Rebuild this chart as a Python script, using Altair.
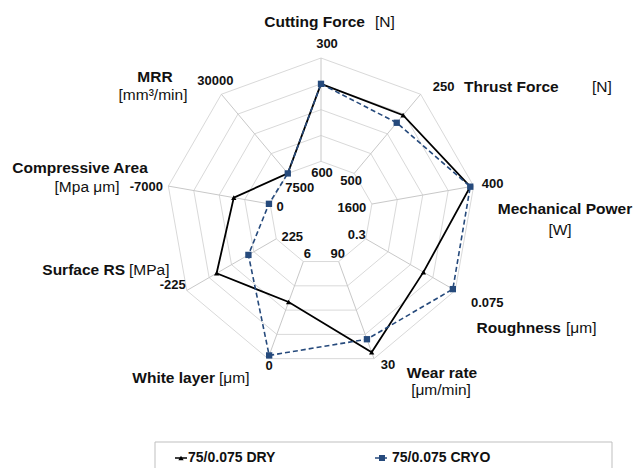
import altair as alt
import pandas as pd

W, H = 633, 468
CX, CY, R = 321, 213, 155          # centre and outer radius of the web (pixels)
HOLE = 1 / 3                        # inner radius as a fraction of R

# ---- data -----------------------------------------------------------------
axes = ["Cutting Force", "Thrust Force", "Mechanical Power", "Roughness",
        "Wear rate", "White layer", "Surface RS", "Compressive Area", "MRR"]
inner_ticks = [600, 500, 1600, 0.3, 90, 6, 225, 0, 7500]
outer_ticks = [300, 250, 400, 0.075, 30, 0, -225, -7000, 30000]
dry_values = [375, 316, 440, 0.155, 34, 3.5, -75, -2500, 7500]
cryo_values = [375, 340, 440, 0.081, 42, 0.2, 85, -80, 7500]
series_names = ["75/0.075 DRY", "75/0.075 CRYO"]

n = len(axes)
FONT = "Liberation Sans"
INK = "#111111"
NAVY = "#264a7c"

# ---- long table of series points (closed polygons) -------------------------
rows = []
for name, vals in zip(series_names, [dry_values, cryo_values]):
    for i in range(n + 1):
        k = i % n
        rows.append({"series": name, "order": i, "k": k, "value": vals[k],
                     "inner": inner_ticks[k], "outer": outer_ticks[k]})
series_df = pd.DataFrame(rows)


def to_x(px):
    return (px - CX) / R


def to_y(py):
    return (CY - py) / R


xs = alt.Scale(domain=[to_x(0), to_x(W)], nice=False, zero=False)
ys = alt.Scale(domain=[to_y(H), to_y(0)], nice=False, zero=False)


def X(f):
    return alt.X(f, type="quantitative", scale=xs, axis=None)


def Y(f):
    return alt.Y(f, type="quantitative", scale=ys, axis=None)


def project(chart):
    """Map each value onto its spoke: inner tick -> hole edge, outer tick -> rim."""
    return chart.transform_calculate(
        ang=f"datum.k * 2 * PI / {n}",
    ).transform_calculate(
        f="(datum.value - datum.inner) / (datum.outer - datum.inner)",
    ).transform_calculate(
        r=f"{HOLE} + {1 - HOLE} * datum.f",
    ).transform_calculate(
        px="datum.r * sin(datum.ang)",
        py="datum.r * cos(datum.ang)",
    )


# ---- web: rings and spokes ------------------------------------------------
ring_rows = []
for ring in range(2, 7):
    for i in range(n + 1):
        ring_rows.append({"ring": ring, "order": i, "k": i % n, "rr": ring / 6})
rings = alt.Chart(pd.DataFrame(ring_rows)).transform_calculate(
    ang=f"datum.k * 2 * PI / {n}"
).transform_calculate(
    px="datum.rr * sin(datum.ang)", py="datum.rr * cos(datum.ang)"
).mark_line(color="#d9d9d9", strokeWidth=1).encode(
    x=X("px"), y=Y("py"), detail="ring:N", order="order:Q"
)

spokes = alt.Chart(pd.DataFrame({"k": list(range(n))})).transform_calculate(
    ang=f"datum.k * 2 * PI / {n}"
).transform_calculate(
    x1=f"{HOLE} * sin(datum.ang)", y1=f"{HOLE} * cos(datum.ang)",
    x2="sin(datum.ang)", y2="cos(datum.ang)",
).mark_rule(color="#c8c8c8", strokeWidth=1).encode(
    x=X("x1"), y=Y("y1"), x2="x2:Q", y2="y2:Q"
)

# ---- tick labels at both ends of every spoke -------------------------------
outer_off = [(6, -14), (23, -7), (19, -2), (32, 12), (14, 6),
             (1, 7), (-14, -6), (-22, 1), (-6, -13)]
inner_off = [(1, 12), (-3, 8), (-20, 4), (-9, -4), (-1, -8),
             (4, -8), (16, -2), (10, 3), (12, 15)]
tick_rows = []
for k in range(n):
    for val, rr, (dx, dy) in [(inner_ticks[k], HOLE, inner_off[k]),
                              (outer_ticks[k], 1.0, outer_off[k])]:
        tick_rows.append({"k": k, "label": f"{val:g}", "rr": rr,
                          "dx": dx / R, "dy": -dy / R})
ticks = alt.Chart(pd.DataFrame(tick_rows)).transform_calculate(
    ang=f"datum.k * 2 * PI / {n}"
).transform_calculate(
    px="datum.rr * sin(datum.ang) + datum.dx",
    py="datum.rr * cos(datum.ang) + datum.dy",
).mark_text(font=FONT, fontSize=13, fontWeight="bold", color=INK,
            baseline="middle").encode(x=X("px"), y=Y("py"), text="label:N")

# ---- axis titles (bold name, regular unit) ---------------------------------
title_parts = [
    ("Cutting Force", 365, 22, "right", "bold"),
    ("[N]", 375, 22, "left", "normal"),
    ("Thrust Force", 464, 87, "left", "bold"),
    ("[N]", 592, 87, "left", "normal"),
    ("Mechanical Power", 565, 209, "center", "bold"),
    ("[W]", 560, 230, "center", "normal"),
    ("Roughness", 561, 328, "right", "bold"),
    ("[μm]", 566, 328, "left", "normal"),
    ("Wear rate", 442, 373, "center", "bold"),
    ("[μm/min]", 441, 390, "center", "normal"),
    ("White layer", 215, 378, "right", "bold"),
    ("[μm]", 219, 378, "left", "normal"),
    ("Surface RS", 125, 270, "right", "bold"),
    ("[MPa]", 129, 270, "left", "normal"),
    ("Compressive Area", 80, 168, "center", "bold"),
    ("[Mpa μm]", 87, 187, "center", "normal"),
    ("MRR", 155, 77, "center", "bold"),
    ("[mm³/min]", 153, 95, "center", "normal"),
]
title_layers = []
for align in ["left", "center", "right"]:
    for weight in ["bold", "normal"]:
        part = [(t, to_x(x), to_y(y)) for t, x, y, a, w in title_parts
                if a == align and w == weight]
        if not part:
            continue
        df = pd.DataFrame(part, columns=["label", "px", "py"])
        title_layers.append(
            alt.Chart(df).mark_text(font=FONT, fontSize=15.5, fontWeight=weight,
                                    color=INK, align=align, baseline="middle")
            .encode(x=X("px"), y=Y("py"), text="label:N")
        )

# ---- series ---------------------------------------------------------------
base = project(alt.Chart(series_df))
dry_line = base.transform_filter(alt.datum.series == series_names[0]).mark_line(
    color="black", strokeWidth=1.8).encode(x=X("px"), y=Y("py"), order="order:Q")
cryo_line = base.transform_filter(alt.datum.series == series_names[1]).mark_line(
    color=NAVY, strokeWidth=1.6, strokeDash=[5, 3]).encode(
    x=X("px"), y=Y("py"), order="order:Q")
dry_pts = base.transform_filter(
    (alt.datum.series == series_names[0]) & (alt.datum.order < n)
).mark_point(shape="triangle-up", filled=True, color="black", size=28,
             opacity=1).encode(x=X("px"), y=Y("py"))
cryo_pts = base.transform_filter(
    (alt.datum.series == series_names[1]) & (alt.datum.order < n)
).mark_point(shape="square", filled=True, color=NAVY, size=40,
             opacity=1).encode(x=X("px"), y=Y("py"))

# ---- legend box -----------------------------------------------------------
one = alt.Chart(pd.DataFrame({"a": [0]}))
legend_box = one.mark_rect(fill="white", stroke="#bfbfbf", strokeWidth=1).encode(
    x=alt.value(155), x2=alt.value(612), y=alt.value(442), y2=alt.value(490))
leg_dry_line = one.mark_rule(color="black", strokeWidth=1.5).encode(
    x=alt.value(175), x2=alt.value(187), y=alt.value(458))
leg_dry_pt = one.mark_point(shape="triangle-up", filled=True, color="black",
                            size=28, opacity=1).encode(
    x=alt.value(181), y=alt.value(458))
leg_cryo_line = one.mark_rule(color=NAVY, strokeWidth=1.5).encode(
    x=alt.value(375), x2=alt.value(387), y=alt.value(458))
leg_cryo_pt = one.mark_point(shape="square", filled=True, color=NAVY,
                             size=36, opacity=1).encode(
    x=alt.value(382), y=alt.value(458))
leg_text = alt.Chart(pd.DataFrame({"label": series_names, "lx": [188, 392]})).mark_text(
    font=FONT, fontSize=14, fontWeight="bold", color=INK, align="left",
    baseline="middle").encode(x=alt.X("lx:Q", scale=alt.Scale(domain=[0, W], nice=False), axis=None),
                              y=alt.value(458), text="label:N")

chart = alt.layer(
    rings, spokes, ticks, *title_layers,
    dry_line, cryo_line, dry_pts, cryo_pts,
    legend_box, leg_dry_line, leg_cryo_line, leg_dry_pt, leg_cryo_pt, leg_text,
).resolve_scale(x="independent").properties(
    width=W, height=H, padding=0, autosize=alt.AutoSizeParams(type="none"),
    background="white",
).configure_view(stroke=None)

chart.save("out.html", embed_options={"renderer": "svg", "actions": False})
